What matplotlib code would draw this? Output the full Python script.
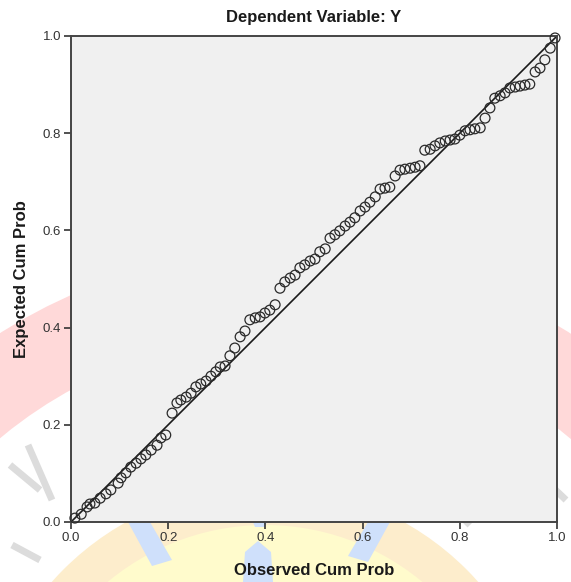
import numpy as np
import matplotlib
matplotlib.use("Agg")
import matplotlib.pyplot as plt
from matplotlib.patches import Circle, Polygon

plt.rcParams['font.family'] = ['Liberation Sans', 'DejaVu Sans']

# observed vs expected cumulative probability
observed = [0.008, 0.021, 0.033, 0.039, 0.049, 0.060, 0.072, 0.082, 0.097, 0.103,
            0.113, 0.123, 0.134, 0.144, 0.154, 0.165, 0.177, 0.185, 0.195, 0.208,
            0.218, 0.226, 0.237, 0.247, 0.257, 0.267, 0.278, 0.288, 0.298, 0.307,
            0.317, 0.327, 0.337, 0.348, 0.358, 0.368, 0.379, 0.389, 0.399, 0.409,
            0.420, 0.430, 0.440, 0.451, 0.461, 0.471, 0.481, 0.492, 0.502, 0.512,
            0.523, 0.533, 0.543, 0.553, 0.564, 0.574, 0.584, 0.595, 0.605, 0.615,
            0.626, 0.636, 0.646, 0.656, 0.667, 0.677, 0.687, 0.698, 0.708, 0.718,
            0.728, 0.739, 0.749, 0.759, 0.770, 0.780, 0.790, 0.800, 0.811, 0.821,
            0.831, 0.842, 0.852, 0.862, 0.872, 0.883, 0.893, 0.903, 0.914, 0.924,
            0.934, 0.944, 0.955, 0.965, 0.975, 0.986, 0.996]
expected = [0.008, 0.016, 0.031, 0.037, 0.039, 0.049, 0.058, 0.066, 0.080, 0.091,
            0.101, 0.113, 0.121, 0.130, 0.138, 0.148, 0.158, 0.173, 0.179, 0.224,
            0.245, 0.251, 0.257, 0.265, 0.278, 0.284, 0.290, 0.300, 0.309, 0.319,
            0.321, 0.342, 0.358, 0.381, 0.393, 0.416, 0.420, 0.422, 0.430, 0.436,
            0.447, 0.481, 0.494, 0.502, 0.508, 0.523, 0.529, 0.537, 0.541, 0.556,
            0.562, 0.584, 0.591, 0.599, 0.609, 0.617, 0.626, 0.640, 0.648, 0.658,
            0.669, 0.685, 0.687, 0.689, 0.712, 0.724, 0.726, 0.728, 0.730, 0.733,
            0.765, 0.767, 0.774, 0.780, 0.784, 0.786, 0.788, 0.796, 0.805, 0.807,
            0.809, 0.811, 0.831, 0.852, 0.872, 0.877, 0.883, 0.893, 0.895, 0.897,
            0.899, 0.901, 0.926, 0.934, 0.951, 0.975, 0.996]
ticks = [0.0, 0.2, 0.4, 0.6, 0.8, 1.0]
tick_labels = ["0.0", "0.2", "0.4", "0.6", "0.8", "1.0"]

W, H = 571, 582
fig = plt.figure(figsize=(W / 100, H / 100), dpi=100)
fig.patch.set_facecolor("white")

# faint watermark logo behind the chart, in pixel coords
wm = fig.add_axes([0, 0, 1, 1], zorder=0)
wm.set_xlim(0, W)
wm.set_ylim(H, 0)
wm.axis("off")
wm.add_patch(Circle((285, 780), 530, color="#ffd9d9", lw=0))
wm.add_patch(Circle((285, 780), 445, color="white", lw=0))
wm.add_patch(Circle((265, 771), 285, color="#fdedcc", lw=0))
wm.add_patch(Circle((265, 771), 246, color="#fffbcc", lw=0))
blue = "#cfe0fb"
wm.add_patch(Polygon([[128, 522], [150, 522], [172, 560], [152, 566]], color=blue, lw=0))
wm.add_patch(Polygon([[368, 522], [390, 522], [368, 562], [348, 556]], color=blue, lw=0))
wm.add_patch(Polygon([[243, 582], [245, 552], [258, 541], [271, 552], [273, 582]], color=blue, lw=0))
wm.add_patch(Polygon([[253, 522], [267, 522], [265, 527], [255, 527]], color=blue, lw=0))
for (x0, y0, x1, y1) in [(10, 465, 40, 490), (28, 445, 52, 500), (12, 545, 40, 560),
                         (445, 500, 470, 525), (545, 480, 566, 500)]:
    wm.plot([x0, x1], [y0, y1], color="#dcdcdc", lw=5, solid_capstyle="butt")

ax = fig.add_axes([71 / W, 1 - 522 / H, 486 / W, 486 / H], zorder=1)
ax.set_facecolor("#f0f0f0")

ax.plot([0, 1], [0, 1], color="#1a1a1a", lw=1.2, zorder=2)
ax.scatter(observed, expected, s=50, facecolors="none", edgecolors="#2a2a2a",
           linewidths=0.9, zorder=3, clip_on=False)

ax.set_xlim(0, 1)
ax.set_ylim(0, 1)
ax.set_xticks(ticks)
ax.set_xticklabels(tick_labels)
ax.set_yticks(ticks)
ax.set_yticklabels(tick_labels)
ax.tick_params(direction="out", length=5, width=1.2, color="#333333",
               labelsize=9.5, labelcolor="#333333", pad=2)
for sp in ax.spines.values():
    sp.set_color("#444444")
    sp.set_linewidth(1.4)

ax.set_title("Dependent Variable: Y", fontsize=12, fontweight="bold",
             color="#1a1a1a", pad=10)
ax.set_xlabel("Observed Cum Prob", fontsize=12, fontweight="bold",
              color="#1a1a1a", labelpad=14)
ax.set_ylabel("Expected Cum Prob", fontsize=12, fontweight="bold",
              color="#1a1a1a", labelpad=10)

fig.savefig("out.png", dpi=100)
